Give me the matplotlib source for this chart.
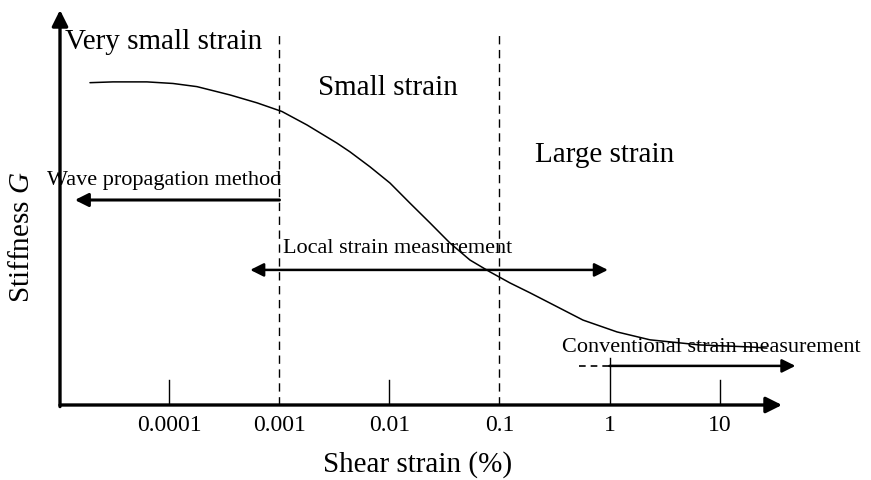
import matplotlib
matplotlib.use("Agg")
import matplotlib.pyplot as plt

plt.rcParams['font.family'] = ['Liberation Serif', 'DejaVu Serif']
plt.rcParams['mathtext.fontset'] = 'custom'
plt.rcParams['mathtext.rm'] = 'Liberation Serif'
plt.rcParams['mathtext.it'] = 'Liberation Serif:italic'

# curve (shear strain in %, stiffness in relative units)
strain = [1.894e-5, 3.064e-5, 6.24e-5, 1.076e-4, 1.778e-4, 3.548e-4, 6.24e-4,
          1.054e-3, 1.778e-3, 3.33e-3, 4.37e-3, 6.65e-3, 1.01e-2, 1.536e-2,
          2.335e-2, 3.548e-2, 5.39e-2, 8.19e-2, 0.1246, 0.1894, 0.2877,
          0.574, 1.17, 2.334, 6.65, 18.94, 27.0]
stiffness = [0.816, 0.818, 0.818, 0.814, 0.806, 0.785, 0.765,
             0.743, 0.709, 0.663, 0.641, 0.603, 0.562, 0.511,
             0.461, 0.410, 0.367, 0.337, 0.309, 0.284, 0.258,
             0.215, 0.185, 0.165, 0.152, 0.147, 0.144]

tick_values = [1e-4, 1e-3, 1e-2, 1e-1, 1, 10]
tick_labels = ['0.0001', '0.001', '0.01', '0.1', '1', '10']
boundaries = [1e-3, 1e-1]

W, H = 871, 480
fig = plt.figure(figsize=(W / 100, H / 100), dpi=100)
ax = fig.add_axes([60 / W, 75 / H, 722 / W, 395 / H])
ax.set_xscale('log')
ax.set_xlim(10 ** -4.995, 10 ** 1.568)
ax.set_ylim(0, 1)
ax.axis('off')

k = dict(annotation_clip=False)

# axes with arrow heads
ax.annotate('', xy=(10 ** 1.568, 0), xytext=(10 ** -4.995, 0),
            arrowprops=dict(arrowstyle='-|>', lw=2.4, color='k',
                            mutation_scale=24, shrinkA=0, shrinkB=0), **k)
ax.annotate('', xy=(10 ** -4.995, 1), xytext=(10 ** -4.995, -0.004),
            arrowprops=dict(arrowstyle='-|>', lw=2.4, color='k',
                            mutation_scale=24, shrinkA=0, shrinkB=0), **k)

# tick marks
for v in tick_values:
    if v in boundaries:
        continue
    top = 0.119 if v == 1 else 0.063
    ax.plot([v, v], [0, top], color='k', lw=1.0)

for v, lab in zip(tick_values, tick_labels):
    ax.text(v, -0.051, lab, ha='center', va='center', fontsize=17)

# region boundaries
ax.plot([boundaries[0]] * 2, [0, 0.95], color='k', lw=1.0, ls=(0, (6, 4)))
ax.plot([boundaries[1]] * 2, [0, 0.937], color='k', lw=1.0, ls=(0, (6, 4)))

# stiffness curve
ax.plot(strain, stiffness, color='k', lw=1.1, solid_capstyle='round',
        solid_joinstyle='round')

# measurement ranges
ax.annotate('', xy=(10 ** -4.86, 0.519), xytext=(1e-3, 0.519),
            arrowprops=dict(arrowstyle='-|>', lw=2.2, color='k',
                            mutation_scale=20, shrinkA=0, shrinkB=0), **k)
ax.annotate('', xy=(10 ** -3.266, 0.342), xytext=(10 ** -0.0145, 0.342),
            arrowprops=dict(arrowstyle='<|-|>', lw=1.8, color='k',
                            mutation_scale=20, shrinkA=0, shrinkB=0), **k)
ax.plot([10 ** -0.277, 1], [0.099, 0.099], color='k', lw=1.2, ls=(0, (4, 3)))
ax.annotate('', xy=(10 ** 1.69, 0.099), xytext=(1, 0.099),
            arrowprops=dict(arrowstyle='-|>', lw=1.8, color='k',
                            mutation_scale=20, shrinkA=0, shrinkB=0), **k)


def ftext(x, y, s, **kw):
    fig.text(x / W, 1 - y / H, s, **kw)


ftext(65, 42, 'Very small strain', fontsize=21, va='center')
ftext(318, 88, 'Small strain', fontsize=21, va='center')
ftext(535, 155, 'Large strain', fontsize=21, va='center')
ftext(47, 180, 'Wave propagation method', fontsize=16, va='center')
ftext(283, 248, 'Local strain measurement', fontsize=16, va='center')
ftext(562, 348, 'Conventional strain measurement', fontsize=16, va='center')
ftext(418, 465, 'Shear strain (%)', fontsize=21, ha='center', va='center')
ftext(22, 237, 'Stiffness $G$', fontsize=21, ha='center', va='center',
      rotation=90)

fig.savefig('out.png', dpi=100)
